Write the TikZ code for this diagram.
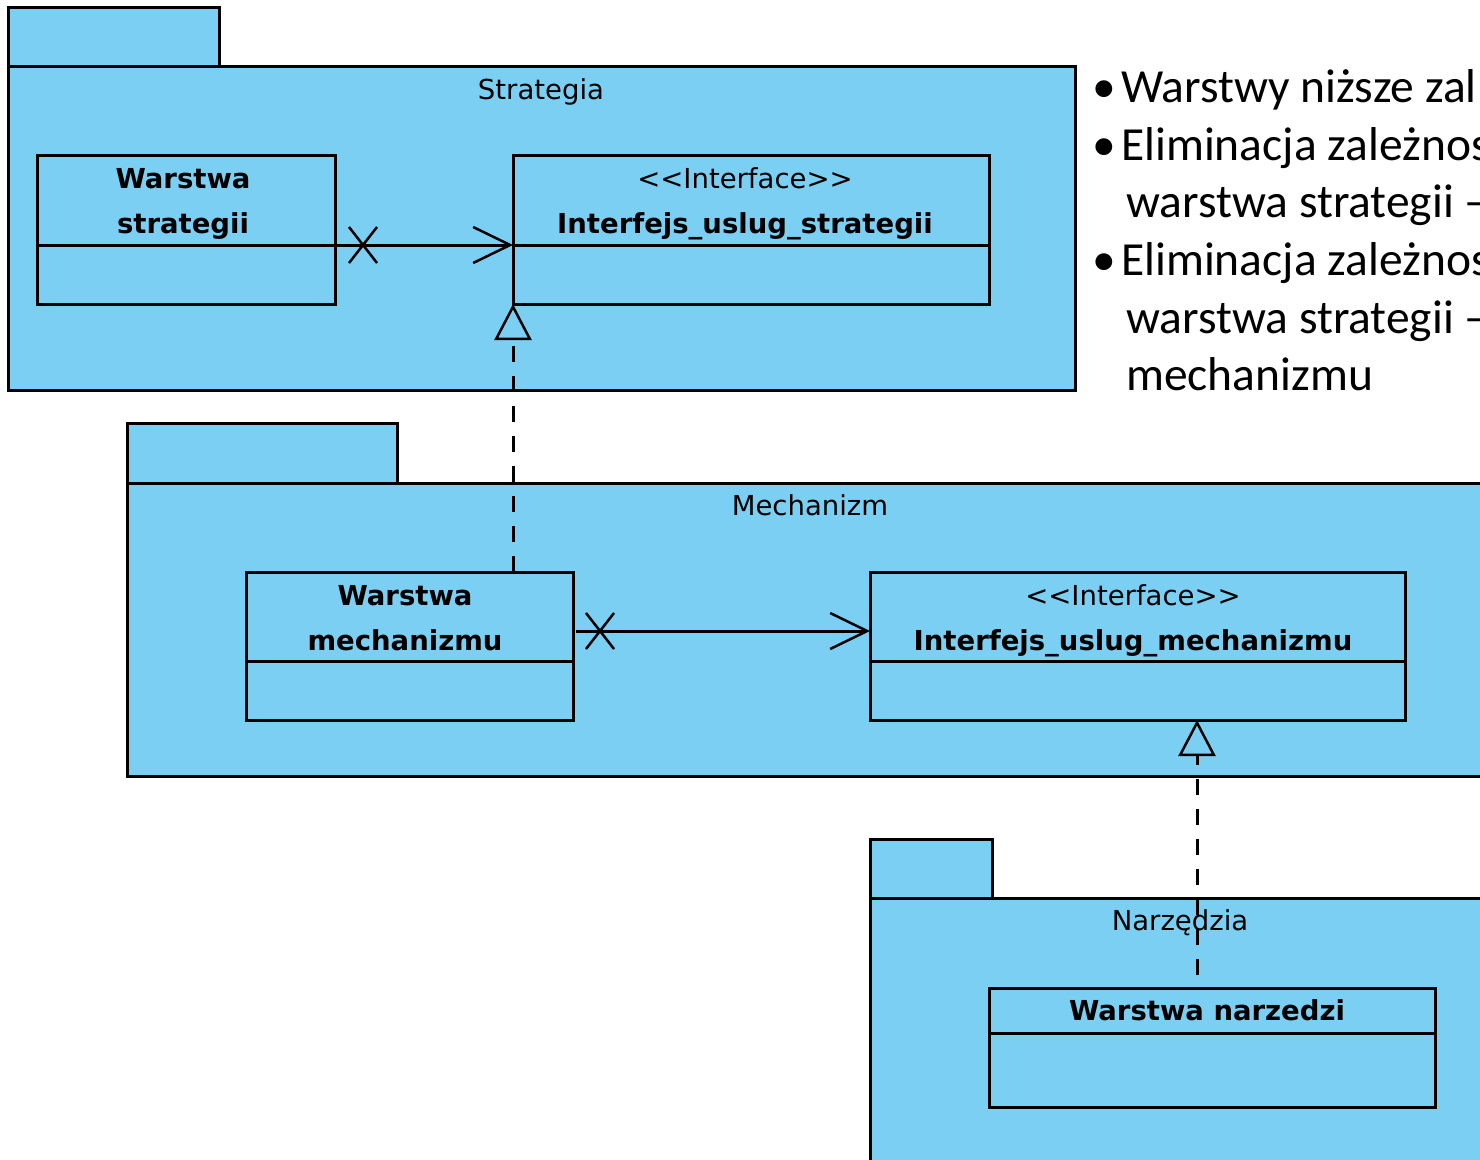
\documentclass[tikz,border=0pt]{standalone}
\usepackage{fontspec}
\setmainfont{DejaVu Sans}
\newfontfamily\notefont{Carlito}
\usetikzlibrary{arrows.meta,calc}
\definecolor{pkgblue}{RGB}{122,207,243}

\tikzset{
  umlbox/.style={draw=black, fill=pkgblue, line width=3pt, inner sep=0pt,
    outer sep=0pt, anchor=north west, minimum width=#1},
  lbl/.style={inner sep=0pt, anchor=base, font=\fontsize{27.5}{33}\selectfont},
  blbl/.style={lbl, font=\fontsize{27.5}{33}\selectfont\bfseries},
  note/.style={inner sep=0pt, anchor=base west, font=\notefont\fontsize{47.5}{58}\selectfont},
  assoc/.style={line width=3pt, -{Straight Barb[length=37pt, width=36pt, line width=2.5pt]}},
  xmark/.style={line width=2.5pt},
  realize/.style={line width=3pt, dash pattern=on 16pt off 14pt,
    -{Triangle[open, length=36pt, width=37pt, line width=2.5pt, fill=pkgblue]}}
}
\newcommand{\stereo}[1]{{<}{<}#1{>}{>}}

\begin{document}
\begin{tikzpicture}[x=1pt, y=-1pt]
\useasboundingbox (0,0) rectangle (1480,1159);
\begin{scope}
\clip (0,0) rectangle (1480,1159);

% ---- package Strategia
\node[umlbox=211pt, minimum height=59pt] (p1t) at (8,7) {};
\node[umlbox=1067pt, minimum height=324pt] (p1b) at (8,66) {};
\node[lbl] (p1l) at (541,99) {Strategia};

% ---- package Mechanizm
\node[umlbox=270pt, minimum height=60pt] (p2t) at (127,423) {};
\node[umlbox=1366pt, minimum height=293pt] (p2b) at (127,483) {};
\node[lbl] (p2l) at (810,515) {Mechanizm};

% ---- package Narzędzia
\node[umlbox=122pt, minimum height=59pt] (p3t) at (870,839) {};
\node[umlbox=620pt, minimum height=330pt] (p3b) at (870,898) {};
\node[lbl] (p3l) at (1180,930) {Narzędzia};

% ---- classes of Strategia
\node[umlbox=298pt, minimum height=90pt] (wsh) at (37,155) {};
\node[umlbox=298pt, minimum height=59pt] (wsb) at (37,245) {};
\node[blbl] (wst1) at (183,188) {Warstwa};
\node[blbl] (wst2) at (183,233) {strategii};

\node[umlbox=476pt, minimum height=90pt] (ish) at (513,155) {};
\node[umlbox=476pt, minimum height=59pt] (isb) at (513,245) {};
\node[lbl] (ist1) at (745,188) {\stereo{Interface}};
\node[blbl] (ist2) at (745,233) {Interfejs\_uslug\_strategii};

% ---- classes of Mechanizm
\node[umlbox=327pt, minimum height=89pt] (wmh) at (246,572) {};
\node[umlbox=327pt, minimum height=59pt] (wmb) at (246,661) {};
\node[blbl] (wmt1) at (405,605) {Warstwa};
\node[blbl] (wmt2) at (405,650) {mechanizmu};

\node[umlbox=535pt, minimum height=89pt] (imh) at (870,572) {};
\node[umlbox=535pt, minimum height=59pt] (imb) at (870,661) {};
\node[lbl] (imt1) at (1133,605) {\stereo{Interface}};
\node[blbl] (imt2) at (1133,650) {Interfejs\_uslug\_mechanizmu};

% ---- class of Narzędzia
\node[umlbox=446pt, minimum height=45pt] (wnh) at (989,988) {};
\node[umlbox=446pt, minimum height=74pt] (wnb) at (989,1033) {};
\node[blbl] (wnt) at (1207,1020) {Warstwa narzedzi};

% ---- associations (non-navigable source end, open arrow)
\draw[assoc] (wsh.south east) -- (ish.south west);
\draw[xmark] ($(wsh.south east)+(28,0)$) +(-14,-18) -- +(14,18)
                                          +(-14,18) -- +(14,-18);
\coordinate (a2) at ($(wmh.south east)+(3,-30)$);
\draw[assoc] (a2) -- (imh.west |- a2);
\draw[xmark] ($(a2)+(24,0)$) +(-14,-18) -- +(14,18)
                              +(-14,18) -- +(14,-18);

% ---- realizations
\draw[realize] (wmh.north -| isb.south west) -- (isb.south west);
\coordinate (r2) at (1197,720);
\draw[realize, shorten <=13pt] (wnh.north -| r2) -- (r2);

% ---- notes
\node[note] (b1) at (1092,102) {•};
\node[note] (n1) at (1121,102) {Warstwy niższe zal};
\node[note] (b2) at (1092,160) {•};
\node[note] (n2) at (1121,160) {Eliminacja zależnos};
\node[note] (n3) at (1126,217) {warstwa strategii –};
\node[note] (b4) at (1092,275) {•};
\node[note] (n4) at (1121,275) {Eliminacja zależnos};
\node[note] (n5) at (1126,333) {warstwa strategii –};
\node[note] (n6) at (1126,390) {mechanizmu};
\end{scope}
\end{tikzpicture}
\end{document}
